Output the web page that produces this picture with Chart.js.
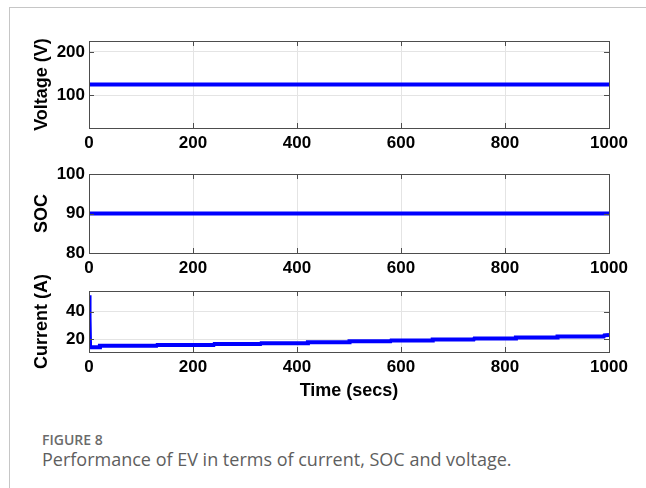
<!DOCTYPE html>
<html>
<head>
<meta charset="utf-8">
<script src="https://cdn.jsdelivr.net/npm/chart.js@4.4.2/dist/chart.umd.min.js"></script>
<style>
  html, body { margin: 0; padding: 0; background: #fff; }
  body { width: 646px; height: 488px; position: relative; overflow: hidden; }
  .frame { position: absolute; left: 9px; top: 7px; right: -2px; bottom: -2px; border-top: 1px solid #c6c6c6; border-left: 1px solid #c6c6c6; }
  .panel { position: absolute; left: 0; width: 646px; }
  .fig-label { position: absolute; left: 42px; top: 430px; font: 600 14px 'Open Sans', sans-serif; color: #6b6b6b; }
  .fig-caption { position: absolute; left: 42px; top: 447px; font: 400 18px 'Open Sans', sans-serif; color: #5e5e5e; }
</style>
</head>
<body>
<div class="frame"></div>
<div class="panel" style="top:20px;height:140px"><canvas id="voltageChart"></canvas></div>
<div class="panel" style="top:153px;height:132px"><canvas id="socChart"></canvas></div>
<div class="panel" style="top:270px;height:134px"><canvas id="currentChart"></canvas></div>
<div class="fig-label">FIGURE 8</div>
<div class="fig-caption">Performance of EV in terms of current, SOC and voltage.</div>
<script>
const xTicks = [0, 200, 400, 600, 800, 1000];

const voltageTime = [0, 200, 400, 600, 800, 1000];
const voltage = [125, 125, 125, 125, 125, 125];
const voltageTicks = [100, 200];

const socTime = [0, 200, 400, 600, 800, 1000];
const soc = [90, 90, 90, 90, 90, 90];
const socTicks = [80, 90, 100];

const currentTime = [0, 1, 2, 4, 20, 21, 130, 131, 240, 241, 330, 331, 420, 421, 500, 501,
  580, 581, 660, 661, 740, 741, 820, 821, 900, 901, 990, 991, 1000];
const current = [52, 36, 15, 14, 14, 15, 15, 15.6, 15.6, 16.3, 16.3, 16.9, 16.9, 17.6, 17.6, 18.3,
  18.3, 19.0, 19.0, 19.7, 19.7, 20.4, 20.4, 21.1, 21.1, 21.9, 21.9, 22.7, 22.9];
const currentTicks = [20, 40];

const FONT = 'Liberation Sans';

// box, inward tick marks and the rotated y label, drawn like a matlab axes
const matlabAxes = {
  id: 'matlabAxes',
  afterDraw(chart, args, opts) {
    const { ctx, chartArea: { left, right, top, bottom }, scales: { x, y } } = chart;
    ctx.save();
    ctx.strokeStyle = '#4d4d4d';
    ctx.lineWidth = 1;
    ctx.beginPath();
    x.ticks.forEach(t => {
      const px = Math.round(x.getPixelForValue(t.value)) + 0.5;
      ctx.moveTo(px, bottom);
      ctx.lineTo(px, bottom - 5);
      ctx.moveTo(px, top);
      ctx.lineTo(px, top + 5);
    });
    y.ticks.forEach(t => {
      const py = Math.round(y.getPixelForValue(t.value)) + 0.5;
      ctx.moveTo(left, py);
      ctx.lineTo(left + 5, py);
      ctx.moveTo(right, py);
      ctx.lineTo(right - 5, py);
    });
    ctx.stroke();
    ctx.strokeRect(Math.round(left) + 0.5, Math.round(top) + 0.5, Math.round(right - left), Math.round(bottom - top));
    ctx.fillStyle = '#000';
    ctx.font = `bold 18px "${FONT}"`;
    ctx.textAlign = 'center';
    ctx.textBaseline = 'middle';
    ctx.translate(opts.x, (top + bottom) / 2);
    ctx.rotate(-Math.PI / 2);
    ctx.fillText(opts.text, 0, 0);
    ctx.restore();
  }
};

const makeChart = (id, times, values, yMin, yMax, yTicks, yTitle, xTitle) => {
  return new Chart(document.getElementById(id), {
    type: 'line',
    data: {
      datasets: [{
        data: times.map((t, i) => ({ x: t, y: values[i] })),
        borderColor: '#0000ff',
        borderWidth: 4,
        pointRadius: 0,
        tension: 0,
        fill: false
      }]
    },
    options: {
      animation: false,
      responsive: true,
      maintainAspectRatio: false,
      layout: {
        padding: { top: 21, right: 37, bottom: 2, left: 0 }
      },
      plugins: {
        legend: { display: false },
        tooltip: { enabled: false },
        matlabAxes: { text: yTitle, x: 42 }
      },
      scales: {
        x: {
          type: 'linear',
          min: 0,
          max: 1000,
          afterBuildTicks: s => { s.ticks = xTicks.map(v => ({ value: v })); },
          afterFit: s => { s.height = xTitle ? 50 : 30; },
          grid: { color: '#e4e4e4', drawTicks: false },
          border: { display: false },
          ticks: {
            color: '#000',
            padding: 5,
            autoSkip: false,
            maxRotation: 0,
            callback: v => String(v),
            font: { family: FONT, size: 17, weight: 'bold' }
          },
          title: {
            display: !!xTitle,
            text: xTitle,
            color: '#000',
            padding: { top: 0, bottom: 0 },
            font: { family: FONT, size: 18, weight: 'bold' }
          }
        },
        y: {
          min: yMin,
          max: yMax,
          afterBuildTicks: s => { s.ticks = yTicks.map(v => ({ value: v })); },
          afterFit: s => { s.width = 89; },
          grid: { color: '#e4e4e4', drawTicks: false },
          border: { display: false },
          ticks: {
            color: '#000',
            padding: 4,
            callback: v => String(v),
            font: { family: FONT, size: 17, weight: 'bold' }
          }
        }
      }
    },
    plugins: [matlabAxes]
  });
};

makeChart('voltageChart', voltageTime, voltage, 25, 225, voltageTicks, 'Voltage (V)');
makeChart('socChart', socTime, soc, 80, 100, socTicks, 'SOC');
makeChart('currentChart', currentTime, current, 10.5, 55.2, currentTicks, 'Current (A)', 'Time (secs)');
</script>
</body>
</html>
